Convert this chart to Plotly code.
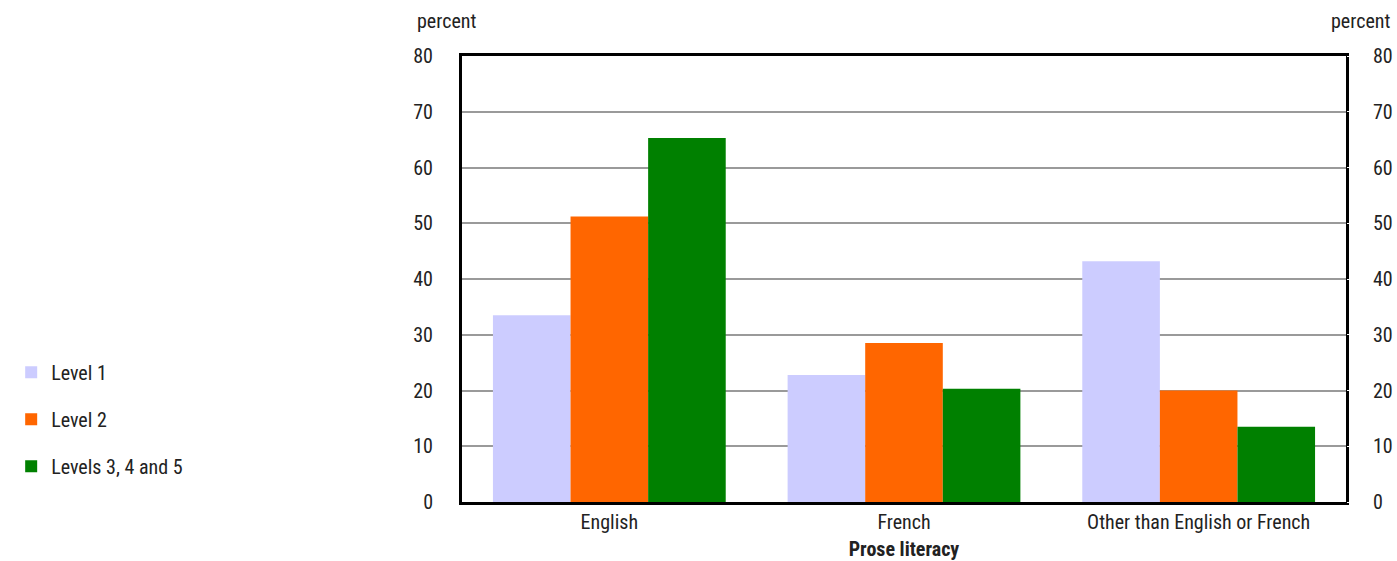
import plotly.graph_objects as go

categories = ["English", "French", "Other than English or French"]
series_names = ["Level 1", "Level 2", "Levels 3, 4 and 5"]
level1 = [33.5, 22.8, 43.2]
level2 = [51.2, 28.5, 20.0]
level345 = [65.3, 20.3, 13.5]
colors = ["#ccccff", "#ff6600", "#008000"]
y_ticks = [0, 10, 20, 30, 40, 50, 60, 70, 80]

FONT = "Liberation Sans Narrow, Roboto Condensed, Roboto, sans-serif"

fig = go.Figure()
for name, vals, c in zip(series_names, [level1, level2, level345], colors):
    fig.add_trace(go.Bar(x=categories, y=vals, name=name, legendgroup=name,
                         marker=dict(color=c, line=dict(width=0))))

# invisible trace to anchor right axis
fig.add_trace(go.Scatter(x=categories, y=level1, yaxis="y2", mode="markers",
                         marker=dict(opacity=0), showlegend=False, hoverinfo="skip"))

axis_font = dict(family=FONT, size=20, color="#222222")

fig.update_layout(
    width=1397, height=561,
    margin=dict(l=462, r=51, t=56, b=59, autoexpand=False),
    paper_bgcolor="white", plot_bgcolor="white",
    barmode="group", bargap=0.21, bargroupgap=0,
    font=dict(family=FONT, size=20, color="#222222"),
    xaxis=dict(
        showline=True, linecolor="black", linewidth=3, mirror=True, automargin=False,
        ticks="", tickfont=axis_font,
        title=dict(text="<b>Prose literacy</b>", font=dict(family=FONT, size=20, color="#222222"), standoff=14),
    ),
    yaxis=dict(
        range=[0, 80], tickvals=y_ticks, showgrid=True, gridcolor="#9a9a9a", gridwidth=2,
        showline=True, linecolor="black", linewidth=3, mirror=True, automargin=False,
        ticks="outside", ticklen=22, tickcolor="white", tickfont=axis_font, zeroline=False,
    ),
    yaxis2=dict(
        range=[0, 80], tickvals=y_ticks, overlaying="y", side="right", showgrid=False,
        ticks="outside", ticklen=22, tickcolor="white", tickfont=axis_font, zeroline=False,
        showline=False, automargin=False,
    ),
    legend=dict(
        xref="container", yref="container", x=0.008, y=0.134, xanchor="left", yanchor="bottom",
        font=dict(family=FONT, size=20, color="#222222"), tracegroupgap=18,
        itemwidth=30, bgcolor="rgba(0,0,0,0)",
    ),
    annotations=[
        dict(text="percent", xref="paper", yref="paper", x=0, xshift=-16, y=1.0, yshift=35,
             xanchor="center", yanchor="middle", showarrow=False, font=axis_font),
        dict(text="percent", xref="paper", yref="paper", x=1.0, xshift=46, y=1.0, yshift=35,
             xanchor="right", yanchor="middle", showarrow=False, font=axis_font),
    ],
)

fig.write_html("out.html", config={"displayModeBar": False},
               post_script="document.body.style.margin='0';document.body.style.padding='0';")
